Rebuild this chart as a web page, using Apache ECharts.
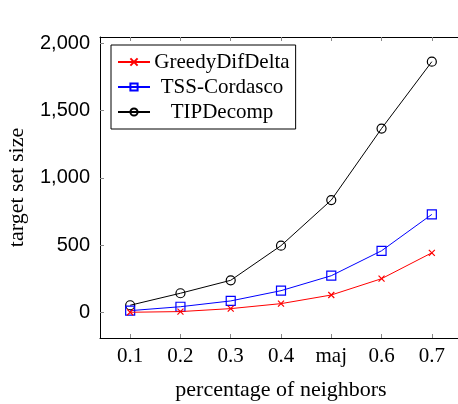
<!DOCTYPE html>
<html>
<head>
<meta charset="utf-8">
<script src="https://cdn.jsdelivr.net/npm/echarts@6/dist/echarts.min.js"></script>
<style>
  html, body { margin: 0; padding: 0; background: #fff; }
  #main { width: 458px; height: 404px; }
</style>
</head>
<body>
<div id="main"></div>
<script>
// x categories and the three series
var categories = ['0.1', '0.2', '0.3', '0.4', 'maj', '0.6', '0.7'];
var greedyDifDelta = [3, 8, 30, 67, 131, 252, 444];
var tssCordasco = [15, 44, 87, 163, 274, 459, 729];
var tipDecomp = [55, 144, 240, 497, 835, 1366, 1862];
var yTicks = [0, 500, 1000, 1500, 2000];

var serif = 'Liberation Serif';
var sans = 'Liberation Sans';

function pairs(vals) {
  return vals.map(function (v, i) { return [i, v]; });
}

var xIdx = categories.map(function (c, i) { return i; });

var chart = echarts.init(document.getElementById('main'));

function xAxisDef(pos, showLabel) {
  return {
    type: 'value',
    position: pos,
    min: -0.6,
    max: 6.6,
    name: showLabel ? 'percentage of neighbors' : '',
    nameLocation: 'middle',
    nameGap: 41,
    nameTextStyle: { fontFamily: serif, fontSize: 22, color: '#000' },
    axisLine: { show: true, onZero: false, lineStyle: { color: '#000', width: 1 } },
    axisTick: { show: true, inside: true, length: 4, customValues: xIdx, lineStyle: { color: '#888' } },
    axisLabel: {
      show: showLabel,
      customValues: xIdx,
      margin: 8,
      fontFamily: serif,
      fontSize: 21,
      color: '#000',
      formatter: function (v) { return categories[Math.round(v)]; }
    },
    splitLine: { show: false }
  };
}

function yAxisDef(pos, showLabel) {
  return {
    type: 'value',
    position: pos,
    min: -188,
    max: 2045,
    name: showLabel ? 'target set size' : '',
    nameLocation: 'middle',
    nameGap: 72,
    nameTextStyle: { fontFamily: serif, fontSize: 22, color: '#000' },
    axisLine: { show: true, onZero: false, lineStyle: { color: '#000', width: 1 } },
    axisTick: { show: true, inside: true, length: 4, customValues: yTicks, lineStyle: { color: '#888' } },
    axisLabel: {
      show: showLabel,
      customValues: yTicks,
      margin: 10,
      fontFamily: sans,
      fontSize: 20,
      color: '#000',
      formatter: function (v) { return v.toLocaleString('en-US'); }
    },
    splitLine: { show: false }
  };
}

var option = {
  animation: false,
  backgroundColor: '#fff',
  grid: { left: 100, top: 37, right: -4, bottom: 66, containLabel: false, outerBoundsMode: 'none' },
  xAxis: [xAxisDef('bottom', true), xAxisDef('top', false)],
  yAxis: [yAxisDef('left', true), yAxisDef('right', false)],
  legend: {
    left: 111,
    top: 45,
    orient: 'vertical',
    padding: [6, 6, 6, 6],
    itemGap: 3,
    itemWidth: 32,
    itemHeight: 9,
    borderColor: '#000',
    borderWidth: 1,
    borderRadius: 0,
    backgroundColor: '#fff',
    formatter: '{a|{name}}',
    textStyle: {
      fontFamily: serif,
      fontSize: 21,
      color: '#000',
      rich: { a: { width: 134, height: 22, lineHeight: 22, align: 'center', fontFamily: serif, fontSize: 21, color: '#000' } }
    },
    data: ['GreedyDifDelta', 'TSS-Cordasco', 'TIPDecomp']
  },
  series: [
    {
      name: 'GreedyDifDelta',
      type: 'line',
      data: pairs(greedyDifDelta),
      symbol: 'path://M0,0L10,10M10,0L0,10',
      symbolSize: 6,
      lineStyle: { color: '#ff0000', width: 1 },
      itemStyle: { color: '#ff0000', borderColor: '#ff0000', borderWidth: 1.2 },
      z: 3
    },
    {
      name: 'TSS-Cordasco',
      type: 'line',
      data: pairs(tssCordasco),
      symbol: 'rect',
      symbolSize: 9,
      lineStyle: { color: '#0000ff', width: 1 },
      itemStyle: { color: 'rgba(0,0,0,0)', borderColor: '#0000ff', borderWidth: 1.2 },
      z: 2
    },
    {
      name: 'TIPDecomp',
      type: 'line',
      data: pairs(tipDecomp),
      symbol: 'circle',
      symbolSize: 9,
      lineStyle: { color: '#000', width: 1 },
      itemStyle: { color: 'rgba(0,0,0,0)', borderColor: '#000', borderWidth: 1.2 },
      z: 1
    }
  ]
};

chart.setOption(option);
</script>
</body>
</html>
